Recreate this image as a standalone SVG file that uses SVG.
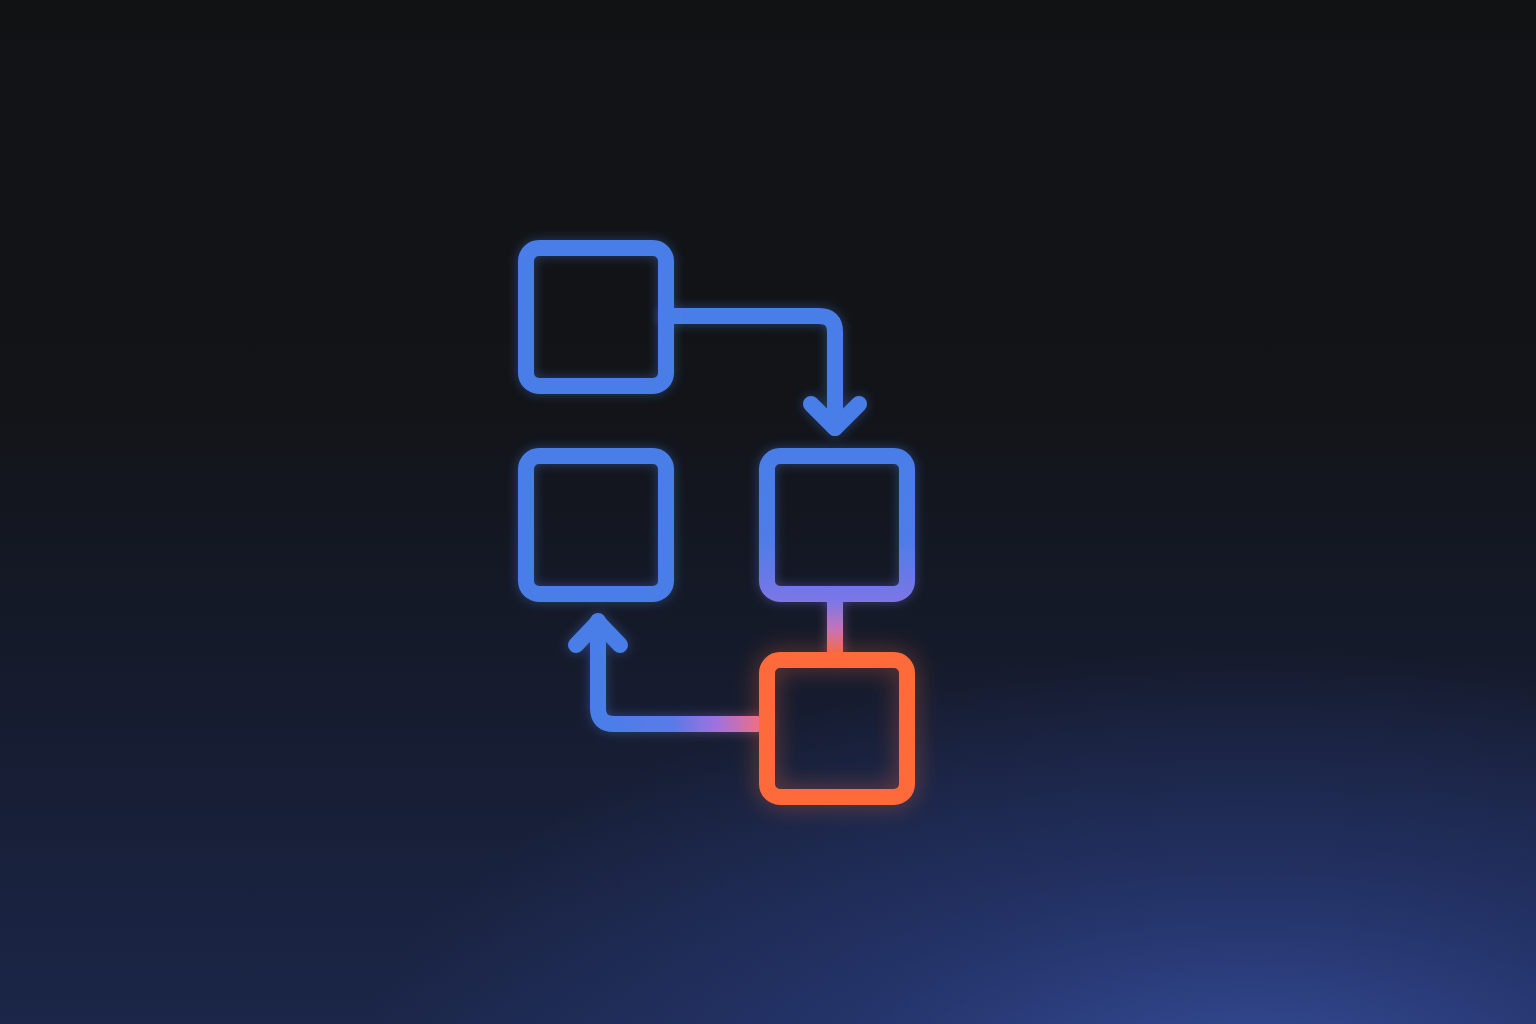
<svg xmlns="http://www.w3.org/2000/svg" width="1536" height="1024" viewBox="0 0 1536 1024">
  <defs>
    <linearGradient id="bg" x1="0" y1="0" x2="0" y2="1">
      <stop offset="0" stop-color="#111214"/>
      <stop offset="0.4" stop-color="#121418"/>
      <stop offset="0.7" stop-color="#161c30"/>
      <stop offset="1" stop-color="#1b2648"/>
    </linearGradient>
    <radialGradient id="bgGlow" cx="1250" cy="1100" r="900" gradientUnits="userSpaceOnUse" gradientTransform="translate(1250 1100) scale(1 0.5) translate(-1250 -1100)">
      <stop offset="0" stop-color="#3a52a2" stop-opacity="0.95"/>
      <stop offset="0.5" stop-color="#2c4088" stop-opacity="0.5"/>
      <stop offset="1" stop-color="#2c4088" stop-opacity="0"/>
    </radialGradient>
    <linearGradient id="box3grad" x1="0" y1="456" x2="0" y2="602" gradientUnits="userSpaceOnUse">
      <stop offset="0" stop-color="#4a7ee8"/>
      <stop offset="0.6" stop-color="#4f7ce8"/>
      <stop offset="1" stop-color="#7d76e6"/>
    </linearGradient>
    <linearGradient id="vgrad" x1="0" y1="600" x2="0" y2="654" gradientUnits="userSpaceOnUse">
      <stop offset="0" stop-color="#7a78e8"/>
      <stop offset="0.55" stop-color="#c872b8"/>
      <stop offset="1" stop-color="#f46a48"/>
    </linearGradient>
    <linearGradient id="hgrad" x1="600" y1="0" x2="762" y2="0" gradientUnits="userSpaceOnUse">
      <stop offset="0" stop-color="#4a7ee8"/>
      <stop offset="0.45" stop-color="#5a7ae8"/>
      <stop offset="0.7" stop-color="#9a72e0"/>
      <stop offset="1" stop-color="#ee6e90"/>
    </linearGradient>
    <filter id="glow" x="-30%" y="-30%" width="160%" height="160%">
      <feGaussianBlur in="SourceGraphic" stdDeviation="6" result="b"/>
      <feComponentTransfer in="b" result="b2"><feFuncA type="linear" slope="0.4"/></feComponentTransfer>
      <feMerge><feMergeNode in="b2"/><feMergeNode in="SourceGraphic"/></feMerge>
    </filter>
    <filter id="glowOrange" x="-40%" y="-40%" width="180%" height="180%">
      <feGaussianBlur in="SourceGraphic" stdDeviation="12" result="b"/>
      <feComponentTransfer in="b" result="b2"><feFuncA type="linear" slope="0.4"/></feComponentTransfer>
      <feMerge><feMergeNode in="b2"/><feMergeNode in="SourceGraphic"/></feMerge>
    </filter>
  </defs>
  <style>
    .box { fill: none; stroke-width: 16; }
    .blue { stroke: #4a7ee8; }
    .orange { stroke: #ff6a3a; }
    .link { fill: none; stroke-width: 16; stroke-linecap: round; stroke-linejoin: round; }
  </style>

  <rect x="0" y="0" width="1536" height="1024" fill="url(#bg)"/>
  <rect x="0" y="0" width="1536" height="1024" fill="url(#bgGlow)"/>

  <g id="connectors" filter="url(#glow)">
    <path id="c1" class="link" stroke="#4a7ee8" d="M666 316 H819 Q835 316 835 332 V428"/>
    <path id="c1-head" class="link" stroke="#4a7ee8" d="M811 404 L835 428 L859 404"/>
    <path id="c2" class="link" stroke="url(#vgrad)" stroke-linecap="butt" d="M835 602 V654"/>
    <path id="c3" class="link" stroke="url(#hgrad)" stroke-linecap="butt" d="M762 724 H614 Q598 724 598 708 V621"/>
    <path id="c3-head" class="link" stroke="#4a7ee8" d="M576 645 L598 622 L620 645"/>
  </g>

  <g id="node-1" filter="url(#glow)">
    <rect class="box blue" x="526" y="248" width="140" height="138" rx="13"/>
  </g>
  <g id="node-2" filter="url(#glow)">
    <rect class="box blue" x="526" y="456" width="140" height="138" rx="13"/>
  </g>
  <g id="node-3" filter="url(#glow)">
    <rect class="box" stroke="url(#box3grad)" x="767" y="456" width="140" height="138" rx="13"/>
  </g>
  <g id="node-4" filter="url(#glowOrange)">
    <rect class="box orange" x="767" y="660" width="140" height="137" rx="13"/>
  </g>
</svg>
